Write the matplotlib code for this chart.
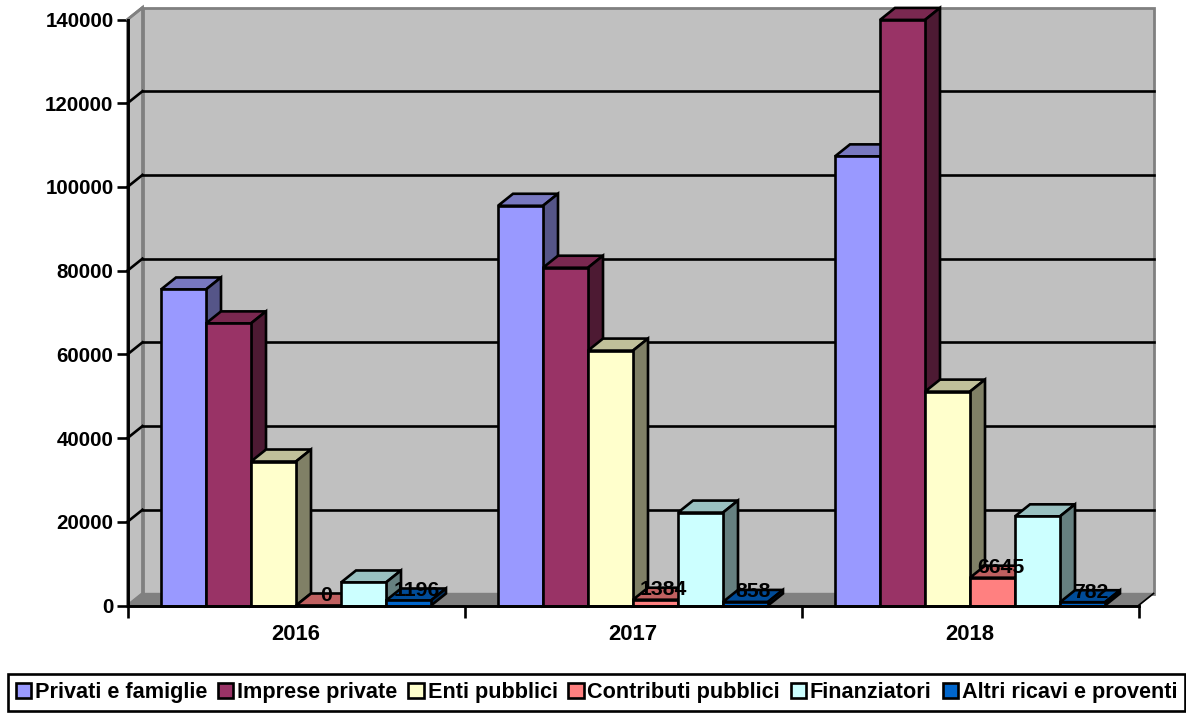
import matplotlib
matplotlib.use("Agg")
from matplotlib import pyplot as plt
from matplotlib.patches import Patch, Polygon

plt.rcParams["font.family"] = ["Liberation Sans", "DejaVu Sans"]
plt.rcParams["font.weight"] = "bold"

years = ["2016", "2017", "2018"]
series_names = ["Privati e famiglie", "Imprese private", "Enti pubblici",
                "Contributi pubblici", "Finanziatori", "Altri ricavi e proventi"]
privati = [75500, 95500, 107300]
imprese = [67400, 80700, 139900]
enti = [34400, 60900, 51100]
contributi = [0, 1384, 6645]
finanziatori = [5500, 22200, 21300]
altri = [1196, 858, 782]
y_ticks = [0, 20000, 40000, 60000, 80000, 100000, 120000, 140000]

# front, top and side shades of each series
front_colors = ["#9999FF", "#993366", "#FFFFCC", "#FF8080", "#CCFFFF", "#0066CC"]
top_colors = ["#7878C0", "#7A2850", "#C0C09A", "#C06060", "#99C0C0", "#004C99"]
side_colors = ["#555588", "#4D1A33", "#808066", "#804040", "#668080", "#003366"]

labelled_series = [3, 5]

PX_X = 1 / 337  # one pixel in category units
PX_Y = 140000 / 586  # one pixel in value units
DEPTH_X = 15 * PX_X
DEPTH_Y = 12 * PX_Y
BAR_W = 45 * PX_X
LINE_W = 1.9

fig = plt.figure(figsize=(11.86, 7.13), dpi=100)
ax = fig.add_axes([127.5 / 1186, 107.5 / 713, 1011 / 1186, 586 / 713])
ax.set_xlim(0, 3)
ax.set_ylim(0, 140000)
ax.patch.set_visible(False)
for side in ["top", "right"]:
    ax.spines[side].set_visible(False)
for side in ["left", "bottom"]:
    ax.spines[side].set_linewidth(LINE_W + 0.2)
    ax.spines[side].set_zorder(30)


def add_face(points, color, zorder, edge="black", lw=LINE_W):
    ax.add_patch(Polygon(points, closed=True, facecolor=color, edgecolor=edge,
                         linewidth=lw, joinstyle="miter", clip_on=False, zorder=zorder))


# Walls and floor
top = 140000
add_face([(DEPTH_X, DEPTH_Y), (3 + DEPTH_X, DEPTH_Y), (3 + DEPTH_X, top + DEPTH_Y), (DEPTH_X, top + DEPTH_Y)],
         "#C0C0C0", 1, edge="#808080", lw=2)
add_face([(0, 0), (DEPTH_X, DEPTH_Y), (DEPTH_X, top + DEPTH_Y), (0, top)], "#C0C0C0", 1, edge="#808080", lw=2)
add_face([(0, 0), (3, 0), (3 + DEPTH_X, DEPTH_Y), (DEPTH_X, DEPTH_Y)], "#808080", 2, edge="#808080", lw=1)
ax.plot([3, 3 + DEPTH_X], [0, DEPTH_Y], color="black", lw=1.2, clip_on=False, zorder=3)

# Gridlines run along the back wall and down the left wall
for value in y_ticks[1:]:
    if value < top:
        ax.plot([DEPTH_X, 3 + DEPTH_X], [value + DEPTH_Y] * 2, color="black", lw=LINE_W, clip_on=False, zorder=3)
    ax.plot([0, DEPTH_X], [value, value + DEPTH_Y], color="black" if value < top else "#808080",
            lw=LINE_W, clip_on=False, zorder=3)

# Bars, left to right so each one covers the side of the previous one
all_series = [privati, imprese, enti, contributi, finanziatori, altri]
z = 5
for i in range(len(years)):
    for s, values in enumerate(all_series):
        x0 = i + 0.5 + (s - 3) * BAR_W
        x1 = x0 + BAR_W
        v = values[i]
        add_face([(x0, v), (x1, v), (x1 + DEPTH_X, v + DEPTH_Y), (x0 + DEPTH_X, v + DEPTH_Y)], top_colors[s], z)
        add_face([(x1, 0), (x1 + DEPTH_X, DEPTH_Y), (x1 + DEPTH_X, v + DEPTH_Y), (x1, v)], side_colors[s], z)
        if v > 0:
            add_face([(x0, 0), (x1, 0), (x1, v), (x0, v)], front_colors[s], z)
        if s in labelled_series:
            ax.annotate(str(v), (x0 + BAR_W / 2, v), xytext=(8 * 0.72, 0.3), textcoords="offset points",
                        ha="center", va="bottom", fontsize=15.3, color="black", zorder=40,
                        annotation_clip=False)
        z += 1

# Axes
ax.set_yticks(y_ticks)
ax.set_xticks([0, 1, 2, 3])
ax.set_xticklabels([])
ax.set_xticks([0.5, 1.5, 2.5], labels=years, minor=True)
ax.tick_params(axis="y", length=8, width=LINE_W, labelsize=14.8, pad=2)
ax.tick_params(axis="x", which="major", length=8.5, width=LINE_W)
ax.tick_params(axis="x", which="minor", length=0, labelsize=15.8, pad=13.5)

# Legend strip at the bottom
handles = [Patch(facecolor=c, edgecolor="black", linewidth=LINE_W) for c in front_colors]
fig.legend(handles, series_names, loc="lower left", bbox_to_anchor=(8 / 1186, 2 / 713), ncol=6,
           fontsize=15.6, frameon=True, fancybox=False, edgecolor="black", framealpha=1,
           handlelength=0.7, handleheight=0.7, handletextpad=0.18, columnspacing=0.5,
           borderpad=0.37, borderaxespad=0).get_frame().set_linewidth(LINE_W)

fig.savefig("out.png", dpi=100)
